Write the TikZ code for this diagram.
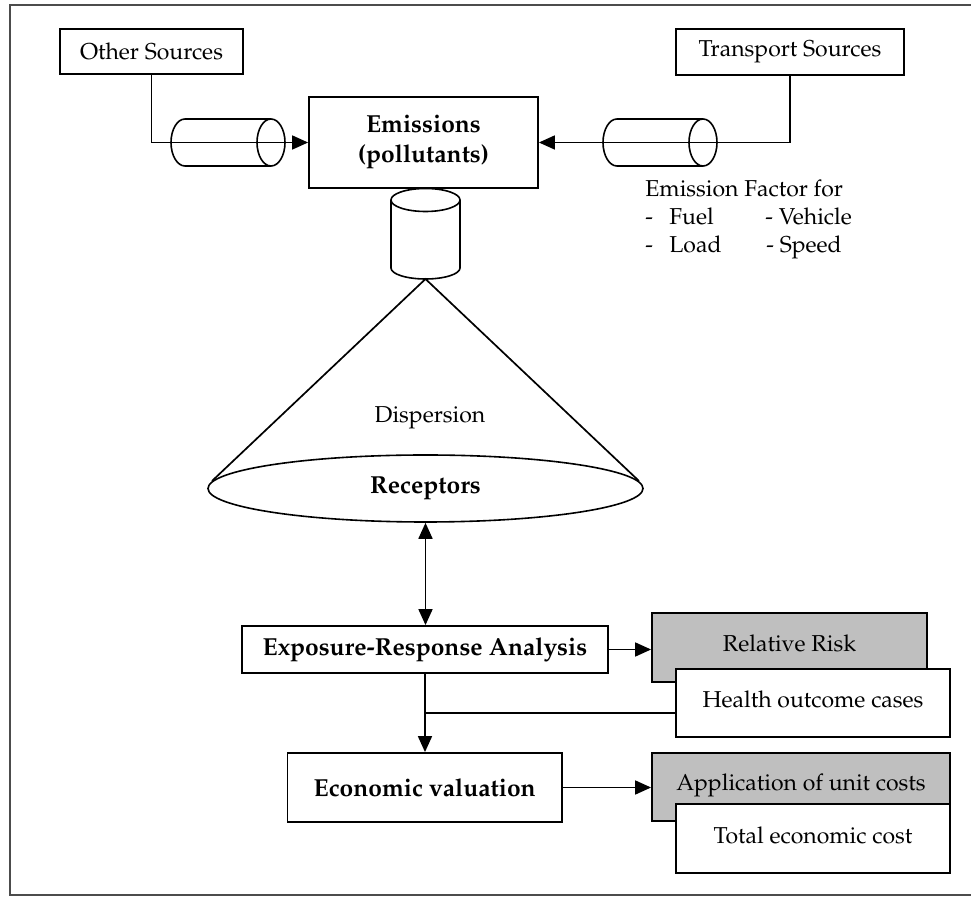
\documentclass[tikz,border=0pt]{standalone}
\usepackage[T1]{fontenc}
\usepackage{mathpazo}
\usetikzlibrary{arrows.meta,calc,shapes.geometric}
\begin{document}
\begin{tikzpicture}[x=0.5pt,y=-0.5pt,
  nfont/.style={font=\fontsize{11.5}{14}\selectfont},
  bfont/.style={font=\fontsize{12.3}{15}\selectfont\bfseries},
  box/.style={draw, line width=0.9pt, inner sep=0pt, fill=white, nfont},
  graybox/.style={box, fill=black!25, text height=8pt, text depth=4pt},
  txt/.style={inner sep=0pt, nfont},
  cyl/.style={line width=0.8pt},
  conn/.style={line width=0.85pt},
  arr/.style={conn, -{Triangle[length=8pt,width=7pt]}},
  darr/.style={conn, {Triangle[length=8pt,width=7pt]}-{Triangle[length=8pt,width=7pt]}}]
\useasboundingbox (0,0) rectangle (971,897);
% frame
\draw[line width=1pt, black!70] (990,5) -- (10,5) -- (10,895) -- (990,895);

% sources
\node[box, minimum width=91.5pt, minimum height=22.5pt] (other) at (151.5,51.5) {Other Sources};
\node[box, minimum width=114pt, minimum height=23pt] (transport) at (790,52) {Transport Sources};
\node[box, bfont, minimum width=114.5pt, minimum height=45.5pt, align=center] (emis) at (423.5,142.5) {Emissions\\(pollutants)};

% left horizontal cylinder
\draw[cyl] (271,119) -- (185,119) arc[start angle=270,end angle=90,x radius=14,y radius=23.5] -- (271,166);
\draw[cyl] (271,142.5) ellipse[x radius=14,y radius=23.5];
% right horizontal cylinder
\draw[cyl] (703,119) -- (617,119) arc[start angle=270,end angle=90,x radius=14,y radius=23.5] -- (703,166);
\draw[cyl] (703,142.5) ellipse[x radius=14,y radius=23.5];

\draw[arr] (other.south) |- (emis.west);
\draw[arr] (transport.south) |- (emis.east);

% emission factor text
\node[txt, anchor=base west] (ef) at (645,197) {Emission Factor for};
\node[txt, anchor=base west] (d1) at (645,225) {-};
\node[txt, anchor=base west] (fuel) at (669,225) {Fuel};
\node[txt, anchor=base west] (veh) at (765,225) {- Vehicle};
\node[txt, anchor=base west] (d2) at (645,253) {-};
\node[txt, anchor=base west] (load) at (669,253) {Load};
\node[txt, anchor=base west] (spd) at (766,253) {- Speed};

% vertical cylinder
\draw[cyl] (391,200) -- (391,268) arc[start angle=180,end angle=0,x radius=34.5,y radius=11] -- (460,200);
\draw[cyl] (425.5,200) ellipse[x radius=34.5,y radius=11.5];
\coordinate (apex) at (425.5,279);

% cone and receptors
\node[draw, ellipse, line width=0.8pt, inner sep=0pt, minimum width=217.5pt, minimum height=33.5pt, bfont] (rec) at (425.5,488.5) {Receptors};
\coordinate (tl) at (212,481);
\coordinate (tr) at (639,481);
\draw[conn] (tl) -- (apex) -- (tr);
\node[txt] (disp) at (430,418) {Dispersion};

% analysis chain
\node[box, bfont, minimum width=183pt, minimum height=23.5pt] (expo) at (425,649.5) {Exposure-Response Analysis};
\node[graybox, minimum width=137.5pt, minimum height=34.5pt] (rr) at (789.5,647.5) {Relative Risk};
\node[box, minimum width=137pt, minimum height=34pt, text height=8pt, text depth=3pt] (health) at (813,703) {Health outcome cases};
\node[box, bfont, minimum width=137.25pt, minimum height=34.5pt] (econ) at (424.75,787.5) {Economic valuation};
\node[graybox, minimum width=149pt, minimum height=34pt] (app) at (801,787) {Application of unit costs};
\node[box, minimum width=137pt, minimum height=34.5pt, text height=8pt, text depth=3pt] (total) at (813,838.5) {Total economic cost};

\draw[darr] (rec.south) -- (rec.south |- expo.north);
\draw[arr] (expo.east) -- (expo.east -| rr.west);
\coordinate (hj) at (425,713);
\draw[conn] (health.west |- hj) -- (hj);
\draw[arr] (expo.south) -- (expo.south |- econ.north);
\draw[arr] (econ.east) -- (econ.east -| app.west);
\end{tikzpicture}
\end{document}
